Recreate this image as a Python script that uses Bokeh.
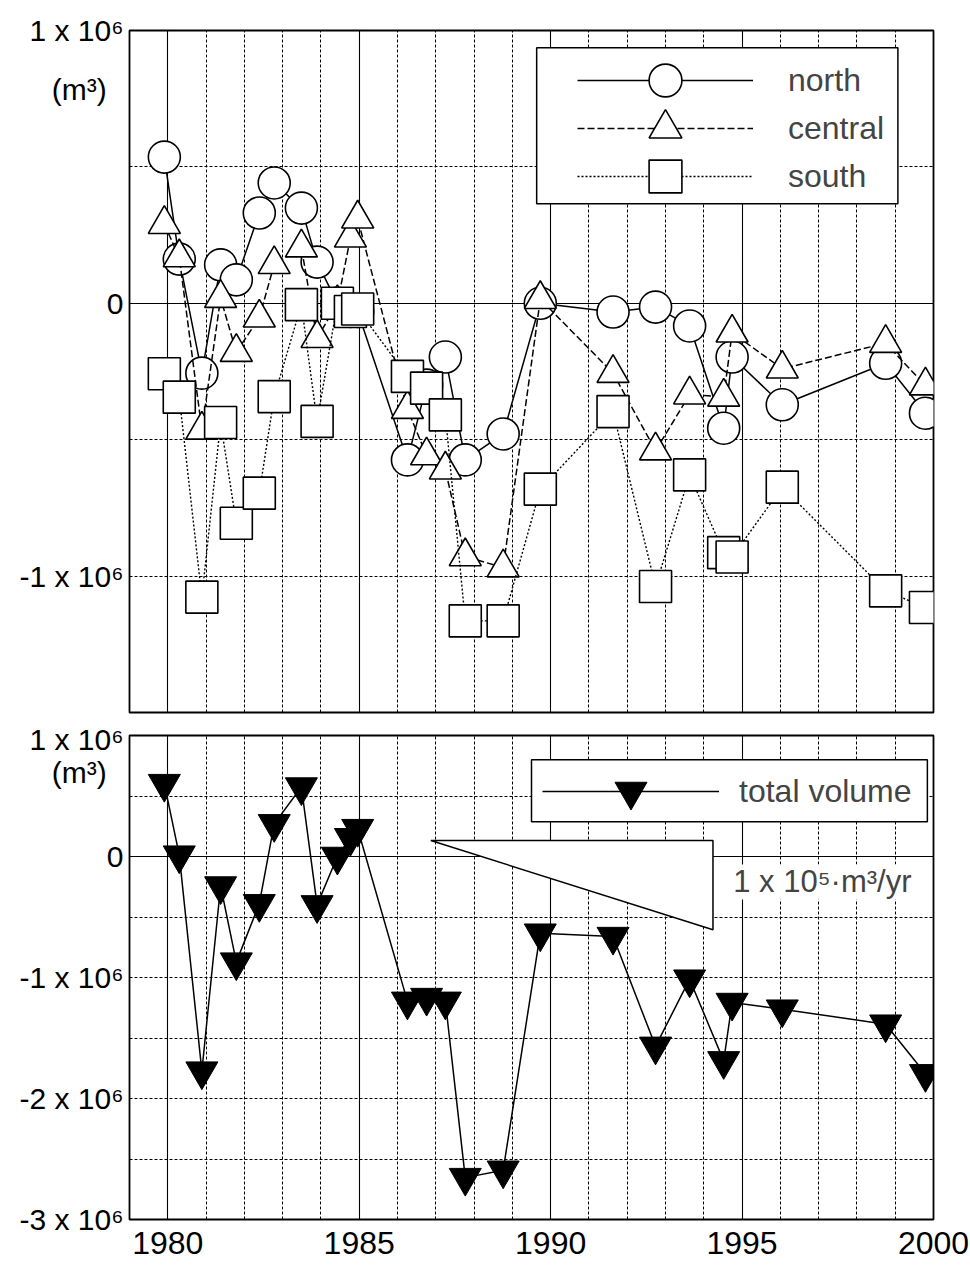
from bokeh.plotting import figure
from bokeh.layouts import column
from bokeh.models import FixedTicker, Legend, LegendItem, BoxAnnotation, Label, Range1d
from bokeh.embed import file_html
from bokeh.resources import INLINE

# Survey dates (decimal years), shared by all series
years = [1979.91, 1980.30, 1980.89, 1981.38, 1981.79, 1982.39, 1982.78, 1983.49, 1983.90,
         1984.43, 1984.77, 1984.96, 1986.26, 1986.76, 1987.25, 1987.77, 1988.76, 1989.73,
         1991.63, 1992.74, 1993.63, 1994.52, 1994.74, 1996.05, 1998.75, 1999.79]

# Volume change per section (m^3)
north = [0.536e6, 0.162e6, -0.256e6, 0.141e6, 0.086e6, 0.331e6, 0.441e6, 0.349e6, 0.151e6,
         0.0, -0.03e6, -0.03e6, -0.574e6, -0.30e6, -0.197e6, -0.574e6, -0.479e6, 0.0,
         -0.032e6, -0.014e6, -0.083e6, -0.458e6, -0.197e6, -0.372e6, -0.22e6, -0.403e6]
central = [0.29e6, 0.168e6, -0.464e6, 0.019e6, -0.179e6, -0.053e6, 0.143e6, 0.204e6, -0.128e6,
           0.0, 0.24e6, 0.31e6, -0.388e6, -0.558e6, -0.61e6, -0.928e6, -0.969e6, 0.015e6,
           -0.256e6, -0.54e6, -0.335e6, -0.343e6, -0.108e6, -0.24e6, -0.146e6, -0.302e6]
south = [-0.258e6, -0.344e6, -1.077e6, -0.437e6, -0.806e6, -0.696e6, -0.342e6, -0.005e6, -0.433e6,
         0.0, -0.03e6, -0.021e6, -0.268e6, -0.311e6, -0.409e6, -1.164e6, -1.164e6, -0.681e6,
         -0.397e6, -1.038e6, -0.629e6, -0.914e6, -0.93e6, -0.674e6, -1.054e6, -1.115e6]
total = [0.602e6, 0.011e6, -1.774e6, -0.244e6, -0.873e6, -0.391e6, 0.27e6, 0.574e6, -0.40e6,
         0.0, 0.155e6, 0.23e6, -1.197e6, -1.166e6, -1.197e6, -2.654e6, -2.593e6, -0.634e6,
         -0.662e6, -1.569e6, -1.014e6, -1.689e6, -1.207e6, -1.262e6, -1.386e6, -1.796e6]

# Axis ticks and labels (the unit caption sits on its own unlabelled-grid tick)
year_ticks = [1980, 1985, 1990, 1995, 2000]
top_ticks = [1e6, 0.783e6, 0, -1e6]
top_tick_labels = ["1 x 10⁶", "(m³)\u2007", "0", "-1 x 10⁶"]
bottom_ticks = [1e6, 0.692e6, 0, -1e6, -2e6, -3e6]
bottom_tick_labels = ["1 x 10⁶", "(m³)\u2007", "0", "-1 x 10⁶", "-2 x 10⁶", "-3 x 10⁶"]

# Reference trend: 1 x 10^5 m^3 per year
trend_rate = 1e5
trend_start, trend_end, trend_top = 1986.87, 1994.24, 0.132e6
trend_label = "1 x 10⁵·m³/yr"

FONT = "Liberation Sans"
X_RANGE = (1979, 2000)


def style(p, ticks, tick_labels, dashed_y):
    p.outline_line_color = "black"
    p.outline_line_width = 1.8
    p.background_fill_color = "white"
    p.border_fill_color = "white"

    p.xgrid.ticker = FixedTicker(ticks=[1980, 1985, 1990, 1995],
                                 minor_ticks=[y for y in range(1980, 2000) if y % 5])
    p.xgrid.grid_line_color = "black"
    p.xgrid.grid_line_width = 1.1
    p.xgrid.minor_grid_line_color = "black"
    p.xgrid.minor_grid_line_width = 1
    p.xgrid.minor_grid_line_dash = "3 2"

    p.ygrid.ticker = FixedTicker(ticks=[0], minor_ticks=dashed_y)
    p.ygrid.grid_line_color = "black"
    p.ygrid.grid_line_width = 1.1
    p.ygrid.minor_grid_line_color = "black"
    p.ygrid.minor_grid_line_width = 1
    p.ygrid.minor_grid_line_dash = "3 2"

    ax = p.yaxis[0]
    ax.ticker = FixedTicker(ticks=ticks)
    ax.major_label_overrides = {t: s for t, s in zip(ticks, tick_labels)}
    ax.major_label_text_font = FONT
    ax.major_label_text_font_size = "30px"
    ax.major_label_text_color = "black"
    ax.major_label_standoff = 6
    ax.major_tick_line_color = None
    ax.minor_tick_line_color = None
    ax.axis_line_color = None
    ax.major_tick_out = 0


def legend_entry(p, label, renderers, x, y, glyph_w, glyph_h, standoff):
    p.add_layout(Legend(items=[LegendItem(label=label, renderers=renderers)],
                        location=(x, y), glyph_width=glyph_w, glyph_height=glyph_h,
                        padding=0, margin=0, label_standoff=standoff,
                        label_text_font=FONT, label_text_font_size="32px",
                        border_line_alpha=0, background_fill_alpha=0), "center")


# ---------- upper panel: sections ----------
p1 = figure(frame_width=804, frame_height=682, x_range=Range1d(*X_RANGE),
            y_range=Range1d(-1.5e6, 1e6), output_backend="svg", toolbar_location=None,
            min_border_left=129, min_border_right=37, min_border_top=30, min_border_bottom=10)
style(p1, top_ticks, top_tick_labels, [5e5, -5e5, -1e6])
p1.xaxis.visible = False

n_line = p1.line(years, north, line_color="black", line_width=1.5)
n_pts = p1.scatter(years, north, marker="circle", size=32, fill_color="white",
                   line_color="black", line_width=1.6)
c_line = p1.line(years, central, line_color="black", line_width=1.5, line_dash="7 3")
c_pts = p1.scatter(years, central, marker="triangle", size=32, fill_color="white",
                   line_color="black", line_width=1.6)
s_line = p1.line(years, south, line_color="black", line_width=1.4, line_dash="2 2")
s_pts = p1.scatter(years, south, marker="square", size=32, fill_color="white",
                   line_color="black", line_width=1.6)

p1.add_layout(BoxAnnotation(left=1989.635, right=1999.07, top=0.937e6, bottom=0.365e6,
                            fill_color="white", fill_alpha=1, line_color="black",
                            line_alpha=1, line_width=1.5))
legend_entry(p1, "north", [n_line, n_pts], 448, 591, 176, 82, 35)
legend_entry(p1, "central", [c_line, c_pts], 448, 543, 176, 82, 35)
legend_entry(p1, "south", [s_line, s_pts], 448, 495, 176, 82, 35)

# ---------- lower panel: total ----------
p2 = figure(frame_width=804, frame_height=484, x_range=Range1d(*X_RANGE),
            y_range=Range1d(-3e6, 1e6), output_backend="svg", toolbar_location=None,
            min_border_left=129, min_border_right=37, min_border_top=13, min_border_bottom=40)
style(p2, bottom_ticks, bottom_tick_labels, [5e5, -5e5, -1e6, -1.5e6, -2e6, -2.5e6])
xa = p2.xaxis[0]
xa.ticker = FixedTicker(ticks=year_ticks)
xa.major_label_text_font = FONT
xa.major_label_text_font_size = "32px"
xa.major_label_text_color = "black"
xa.major_label_standoff = 12
xa.major_tick_line_color = None
xa.minor_tick_line_color = None
xa.axis_line_color = None
xa.major_tick_out = 0

tri_x = [trend_start, trend_end, trend_end]
tri_y = [trend_top, trend_top, trend_top - trend_rate * (trend_end - trend_start)]
p2.patch(tri_x, tri_y, fill_color="white", line_color="black", line_width=1.5)

t_line = p2.line(years, total, line_color="black", line_width=1.5)
t_pts = p2.scatter(years, total, marker="inverted_triangle", size=32, fill_color="black",
                   line_color="black", line_width=1)

p2.add_layout(BoxAnnotation(left=1989.5, right=1999.84, top=0.8e6, bottom=0.287e6,
                            fill_color="white", fill_alpha=1, line_color="black",
                            line_alpha=1, line_width=1.5))
legend_entry(p2, "total volume", [t_line, t_pts], 413, 388, 177, 80, 20)
p2.add_layout(Label(x=1994.77, y=-0.21e6, text=trend_label, text_align="left",
                    text_baseline="middle", text_font=FONT, text_font_size="31px",
                    background_fill_color="white"))

layout = column(p1, p2, spacing=0)
open("out.html", "w").write(file_html(layout, INLINE))
